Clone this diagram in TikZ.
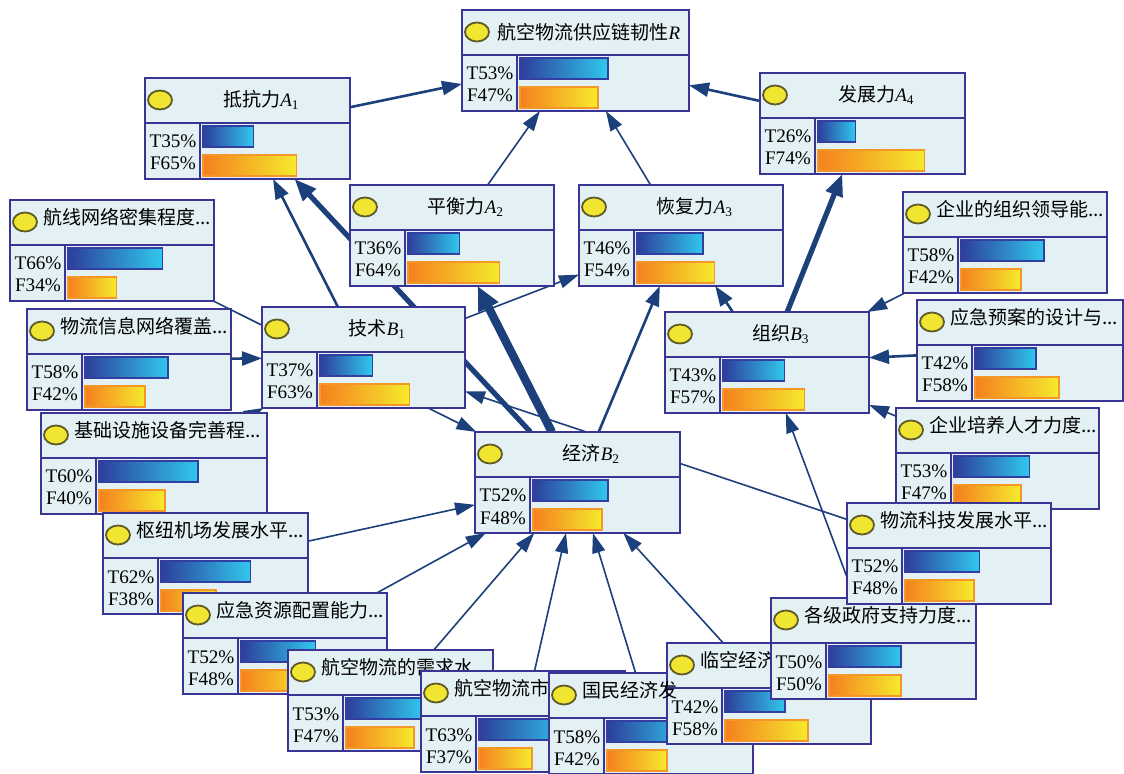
\documentclass[tikz,border=0pt]{standalone}
\usepackage{fontspec}
\setmainfont{Liberation Serif}
\newfontfamily\cjk{Noto Sans CJK SC}
\usetikzlibrary{arrows.meta}
\pgfdeclarelayer{edges}
\pgfsetlayers{edges,main}

\definecolor{bnfill}{RGB}{227,241,245}
\definecolor{bnedge}{RGB}{58,52,148}
\definecolor{bulbfill}{RGB}{240,230,50}
\definecolor{bulbedge}{RGB}{95,90,40}
\definecolor{tleft}{RGB}{45,62,155}
\definecolor{tright}{RGB}{48,200,236}
\definecolor{tborder}{RGB}{50,62,160}
\definecolor{fleft}{RGB}{245,128,30}
\definecolor{fright}{RGB}{245,235,45}
\definecolor{fborder}{RGB}{245,150,40}
\definecolor{linkc}{RGB}{28,64,124}

\newcommand{\bnpx}{0.5pt}
\newcommand{\bnsym}[2]{{\rmfamily\itshape #1}\textsubscript{\rmfamily #2}}

% frame, bulb, bars and percentages of one network node
\newcommand{\bnbody}[6]{%
  \node[bnframe, minimum width=#4*\bnpx] (#1) at (#2,#3) {};
  \draw[bnline] (#2,#3+45) -- (#2+#4,#3+45);
  \draw[bnline] (#2+55,#3+45) -- (#2+55,#3+101);
  \draw[bulb] (#2+15,#3+22) ellipse [x radius=12, y radius=9.5];
  \shadedraw[tbar] (#2+58,#3+48) rectangle ({#2+58+#5*(#4-58)/102},{#3+69});
  \shadedraw[fbar] (#2+58,#3+77) rectangle ({#2+58+#6*(#4-58)/102},{#3+98});
  \node[pct] (#1-T) at (#2+28,#3+70) {T#5\%};
  \node[pct] (#1-F) at (#2+28,#3+92) {F#6\%};
}
\newcommand{\bnmid}[7]{%
  \bnbody{#1}{#2}{#3}{#4}{#6}{#7}
  \node[bntitle] (#1-title) at ({#2+14+#4/2},{#3+22}) {#5};
}
\newcommand{\bnleaf}[7]{%
  \bnbody{#1}{#2}{#3}{#4}{#6}{#7}
  \node[bntitle, anchor=west] (#1-title) at (#2+33,#3+17) {#5};
}

\begin{document}
\begin{tikzpicture}[
  x=0.5pt, y=-0.5pt,
  bnframe/.style={draw=bnedge, fill=bnfill, line width=1pt, inner sep=0pt,
    outer sep=0pt, anchor=north west, minimum height=50.5pt},
  bnline/.style={draw=bnedge, line width=1pt},
  bulb/.style={draw=bulbedge, fill=bulbfill, line width=0.9pt},
  tbar/.style={left color=tleft, right color=tright, draw=tborder, line width=0.8pt},
  fbar/.style={left color=fleft, right color=fright, draw=fborder, line width=0.8pt},
  pct/.style={font=\fontsize{9.6}{11}\selectfont, inner sep=0pt, anchor=base},
  bntitle/.style={font=\cjk\fontsize{9.5}{11}\selectfont, inner sep=0pt},
  link/.style={draw=linkc, line width=0.8pt, -{Triangle[length=10pt,width=6.5pt]}},
  midlink/.style={link, line width=1.3pt, -{Triangle[length=10pt,width=7pt]}},
  boldlink/.style={link, line width=2.6pt, -{Triangle[length=11pt,width=8.5pt]}},
  heavylink/.style={link, line width=4.2pt, -{Triangle[length=12pt,width=10.5pt]}}
]
  \useasboundingbox (0,0) rectangle (1124,774);

  % resilience and its four abilities
  \bnmid{r}{462}{10}{227}{航空物流供应链韧性\bnsym{R}{}}{53}{47}
  \bnmid{a1}{145}{78}{205}{抵抗力\bnsym{A}{1}}{35}{65}
  \bnmid{a4}{760}{73}{205}{发展力\bnsym{A}{4}}{26}{74}
  \bnmid{a2}{350}{185}{204}{平衡力\bnsym{A}{2}}{36}{64}
  \bnmid{a3}{579}{185}{204}{恢复力\bnsym{A}{3}}{46}{54}

  % the three factors
  \bnmid{b1}{262}{307}{203}{技术\bnsym{B}{1}}{37}{63}
  \bnmid{b3}{665}{312}{204}{组织\bnsym{B}{3}}{43}{57}
  \bnmid{b2}{475}{432}{205}{经济\bnsym{B}{2}}{52}{48}

  % indicators
  \bnleaf{l1}{10}{200}{204}{航线网络密集程度...}{66}{34}
  \bnleaf{l2}{27}{309}{204}{物流信息网络覆盖...}{58}{42}
  \bnleaf{l3}{41}{413}{226}{基础设施设备完善程...}{60}{40}
  \bnleaf{l4}{103}{513}{205}{枢纽机场发展水平...}{62}{38}
  \bnleaf{l5}{183}{593}{204}{应急资源配置能力...}{52}{48}
  \bnleaf{l6}{288}{650}{205}{航空物流的需求水...}{53}{47}
  \bnleaf{l7}{421}{671}{204}{航空物流市}{63}{37}
  \bnbody{l8}{549}{673}{204}{58}{42}
  \bnleaf{l9}{667}{643}{204}{临空经济}{42}{58}
  \node[bntitle, anchor=west] (l8-title) at (582,690) {国民经济发};
  \bnleaf{l10}{771}{598}{205}{各级政府支持力度...}{50}{50}
  \bnleaf{r1}{903}{192}{204}{企业的组织领导能...}{58}{42}
  \bnleaf{r2}{917}{300}{206}{应急预案的设计与...}{42}{58}
  \bnleaf{r3}{896}{408}{203}{企业培养人才力度...}{53}{47}
  \bnleaf{l11}{847}{503}{204}{物流科技发展水平...}{52}{48}

  % links, behind the boxes
  \begin{pgfonlayer}{edges}
    \fill[white] (0,0) rectangle (1124,774);
    \draw[midlink] (a1) -- (r);
    \draw[midlink] (a4) -- (r);
    \draw[link] (a2) -- (r);
    \draw[link] (a3) -- (r);
    \draw[midlink] (b1) -- (a1);
    \draw[boldlink] (b2) -- (a1);
    \draw[heavylink] (b2) -- (a2);
    \draw[link] (b1) -- (a3);
    \draw[midlink] (b2) -- (a3);
    \draw[midlink] (b3) -- (a3);
    \draw[boldlink] (b3) -- (a4);
    \draw[link] (l1) -- (b2);
    \draw[midlink] (l2) -- (b1);
    \draw[link] (l3) -- (b1);
    \draw[link] (l11) -- (b1);
    \draw[link] (l4) -- (b2);
    \draw[link] (l5) -- (b2);
    \draw[link] (l6) -- (b2);
    \draw[link] (l7) -- (b2);
    \draw[link] (l8) -- (b2);
    \draw[link] (l9) -- (b2);
    \draw[link] (l10) -- (b3);
    \draw[link] (r1) -- (b3);
    \draw[midlink] (r2) -- (b3);
    \draw[link] (r3) -- (b3);
  \end{pgfonlayer}
\end{tikzpicture}
\end{document}
